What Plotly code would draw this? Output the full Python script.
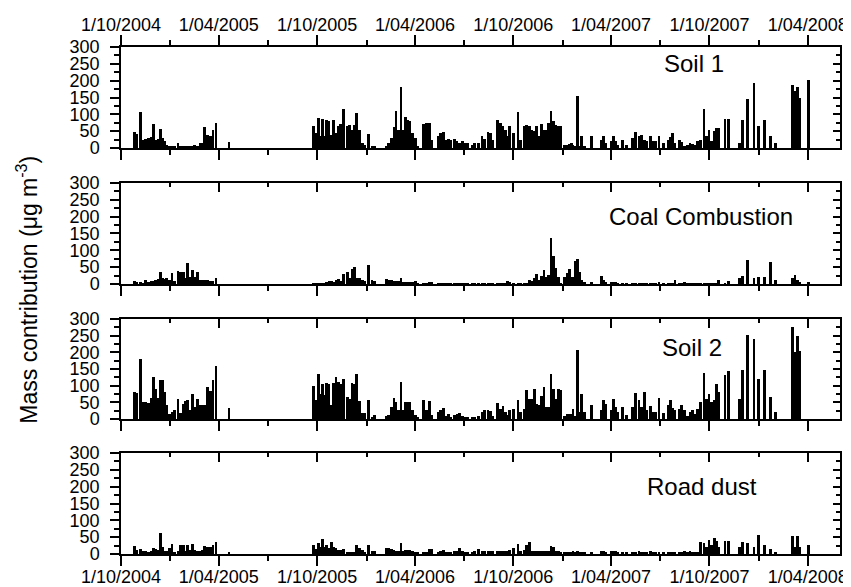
import pandas as pd
import plotly.graph_objects as go

# sample day number counted from 1 October 2004
sample_day = [
    25, 30, 36, 42, 46, 51, 56, 60, 64, 69, 73, 77, 81, 85, 90, 95, 100, 106, 111, 116,
    120, 124, 128, 133, 137, 142, 147, 152, 156, 161, 166, 171, 177, 201,
    358, 362, 367, 371, 375, 379, 383, 387, 392, 396, 400, 405, 409, 414, 421, 425,
    430, 434, 438, 444, 449, 453, 460, 467, 472, 494, 498, 503, 508, 512, 516, 521,
    525, 529, 534, 538, 543, 548, 552, 563, 568, 574, 579, 590, 594, 600, 605, 610,
    614, 621, 625, 630, 635, 641, 646, 653, 658, 665,
    672, 677, 683, 688, 692, 701, 706, 711, 715, 719, 723, 731, 739, 744, 750, 755,
    760, 765, 769, 773, 778, 783, 787, 791, 796, 800, 805, 809, 814, 819, 825, 830,
    834, 838, 841, 845, 849, 853, 857, 863, 876, 894, 898, 902, 912, 916, 920, 924,
    933, 941, 952, 958, 964, 969, 974, 979, 985, 989, 995, 1001, 1010, 1018, 1022, 1026,
    1031, 1039, 1043, 1049, 1054, 1059, 1064, 1068, 1073, 1079, 1085, 1090, 1094, 1099, 1104, 1108,
    1112, 1124, 1130, 1151, 1156, 1166, 1178, 1186, 1197, 1209, 1218, 1249, 1254, 1259, 1263, 1280,
]

soil1 = [
    48, 43, 106, 25, 27, 30, 33, 72, 25, 27, 56, 30, 20, 10, 5, 5, 7, 15, 5, 5,
    3, 4, 5, 5, 9, 6, 15, 15, 61, 40, 37, 54, 75, 19,
    64, 46, 89, 37, 87, 37, 84, 79, 40, 84, 45, 64, 71, 117, 64, 69,
    54, 69, 104, 54, 15, 10, 42, 5, 3, 5, 15, 30, 62, 111, 54, 180,
    54, 91, 84, 79, 45, 30, 5, 72, 73, 74, 25, 37, 45, 47, 25, 27,
    23, 28, 20, 15, 20, 15, 15, 10, 15, 15,
    37, 27, 47, 45, 25, 84, 74, 64, 54, 35, 64, 45, 106, 25, 64, 69,
    64, 54, 50, 64, 35, 71, 54, 54, 74, 109, 79, 69, 64, 64, 10, 10,
    13, 15, 10, 5, 153, 5, 37, 3, 37, 25, 37, 15, 20, 37, 20, 8,
    25, 10, 30, 47, 35, 40, 25, 20, 37, 20, 20, 35, 15, 25, 33, 45,
    15, 25, 17, 5, 10, 15, 13, 10, 20, 25, 116, 35, 54, 20, 50, 59,
    59, 86, 86, 15, 84, 147, 193, 64, 82, 35, 15, 188, 170, 181, 148, 203,
]

coal = [
    9, 5, 7, 4, 13, 7, 9, 9, 12, 15, 36, 18, 15, 17, 12, 32, 9, 38, 37, 37,
    18, 62, 22, 42, 20, 35, 12, 11, 11, 11, 9, 9, 19, 0,
    2, 2, 3, 3, 3, 4, 5, 8, 8, 6, 12, 14, 10, 30, 37, 19,
    44, 50, 19, 17, 12, 9, 57, 13, 9, 16, 13, 13, 10, 9, 10, 17,
    7, 6, 6, 6, 6, 9, 4, 3, 2, 5, 5, 3, 2, 2, 2, 2,
    2, 3, 3, 3, 3, 2, 2, 2, 2, 3,
    3, 3, 3, 3, 2, 3, 3, 3, 3, 10, 5, 4, 4, 4, 4, 4,
    11, 8, 17, 29, 12, 25, 42, 22, 27, 138, 83, 49, 22, 3, 22, 32,
    44, 20, 20, 68, 74, 35, 12, 5, 7, 24, 12, 6, 6, 5, 5, 3,
    2, 2, 2, 2, 2, 2, 2, 2, 2, 2, 2, 5, 2, 2, 2, 2,
    11, 3, 3, 7, 2, 2, 2, 2, 2, 2, 2, 2, 3, 2, 2, 2,
    12, 3, 9, 17, 24, 71, 19, 22, 22, 64, 12, 17, 27, 12, 5, 5,
]

soil2 = [
    81, 78, 181, 50, 50, 48, 64, 126, 91, 64, 118, 116, 81, 41, 16, 21, 26, 61, 18, 46,
    54, 56, 26, 76, 36, 59, 41, 43, 43, 96, 83, 118, 158, 34,
    100, 58, 134, 76, 104, 71, 108, 106, 41, 108, 126, 111, 104, 121, 66, 61,
    108, 104, 134, 54, 18, 18, 56, 5, 13, 8, 13, 36, 64, 51, 26, 111,
    26, 51, 50, 50, 26, 13, 6, 56, 26, 54, 11, 21, 28, 33, 10, 14,
    6, 11, 16, 19, 8, 4, 4, 4, 6, 8,
    21, 28, 26, 23, 8, 48, 31, 38, 21, 13, 28, 31, 58, 21, 30, 86,
    61, 61, 90, 46, 41, 70, 96, 36, 36, 136, 90, 61, 90, 86, 8, 14,
    14, 16, 31, 10, 206, 20, 76, 21, 43, 26, 56, 46, 26, 60, 36, 21,
    36, 11, 36, 78, 58, 36, 81, 26, 38, 21, 21, 64, 18, 41, 56, 34,
    26, 30, 41, 26, 10, 21, 28, 15, 31, 50, 138, 61, 76, 51, 58, 104,
    81, 131, 143, 61, 148, 253, 239, 121, 146, 66, 21, 276, 201, 249, 203, 0,
]

road_dust = [
    24, 12, 15, 9, 9, 5, 10, 19, 15, 12, 62, 22, 9, 9, 17, 30, 5, 8, 27, 27,
    10, 27, 12, 29, 12, 10, 10, 11, 24, 22, 22, 27, 35, 5,
    27, 15, 34, 20, 45, 22, 27, 17, 35, 22, 17, 12, 12, 15, 7, 5,
    5, 5, 27, 17, 12, 5, 27, 9, 9, 19, 19, 15, 12, 9, 9, 34,
    9, 11, 11, 11, 9, 7, 4, 7, 5, 14, 14, 7, 9, 11, 5, 5,
    7, 9, 10, 17, 8, 4, 4, 4, 9, 15,
    8, 8, 8, 9, 9, 10, 10, 9, 10, 10, 12, 19, 30, 10, 12, 27,
    37, 10, 8, 8, 10, 8, 8, 8, 8, 24, 20, 8, 8, 5, 5, 5,
    5, 5, 8, 5, 8, 5, 5, 4, 4, 10, 8, 5, 9, 9, 9, 4,
    4, 4, 4, 5, 8, 5, 5, 5, 8, 4, 4, 5, 4, 4, 4, 4,
    4, 4, 5, 8, 4, 9, 5, 5, 5, 37, 32, 20, 42, 27, 47, 40,
    20, 39, 39, 22, 37, 32, 22, 57, 27, 14, 5, 52, 22, 52, 22, 27,
]

panel_names = ["Soil 1", "Coal Combustion", "Soil 2", "Road dust"]
major_ticks = ["2004-10-01", "2005-04-01", "2005-10-01", "2006-04-01",
               "2006-10-01", "2007-04-01", "2007-10-01", "2008-04-01"]
major_labels = ["1/10/2004", "1/04/2005", "1/10/2005", "1/04/2006",
                "1/10/2006", "1/04/2007", "1/10/2007", "1/04/2008"]
minor_ticks = ["2005-01-01", "2005-07-01", "2006-01-01", "2006-07-01",
               "2007-01-01", "2007-07-01", "2008-01-01"]
y_ticks = [0, 50, 100, 150, 200, 250, 300]
y_minor = [25, 75, 125, 175, 225, 275]
x_range = ["2004-10-01", "2008-05-31"]
y_title = "Mass contribution (\u03bcg m<sup>-3</sup>)"

dates = (pd.Timestamp("2004-10-01") + pd.to_timedelta(sample_day, unit="D")).strftime("%Y-%m-%d").tolist()
series = [soil1, coal, soil2, road_dust]

FONT = "Arial, Liberation Sans, sans-serif"
domains = [[0.8008, 1.0], [0.5325, 0.7318], [0.2663, 0.4635], [0.0, 0.1992]]
label_pos = [(0.797, 0.84), (0.807, 0.673), (0.794, 0.72), (0.808, 0.673)]


def sfx(n):
    return "" if n == 1 else str(n)


fig = go.Figure()
layout = {}
annotations = []
for i in range(4):
    n = i + 1
    no = n + 4
    a, b = sfx(n), sfx(no)
    fig.add_trace(go.Bar(
        x=dates, y=series[i], width=5.0 * 86400000,
        marker=dict(color="black", line=dict(width=0)),
        xaxis="x" + a, yaxis="y" + a, showlegend=False,
    ))
    fig.add_trace(go.Scatter(
        x=[None], y=[None], mode="markers", xaxis="x" + b, yaxis="y" + b,
        showlegend=False, hoverinfo="skip",
    ))
    common_x = dict(
        type="date", range=x_range, showline=True, linecolor="black", linewidth=1.5,
        tickvals=major_ticks, ticktext=major_labels, tickcolor="black", tickwidth=1.5,
        showgrid=False, zeroline=False, automargin=False,
        tickfont=dict(family=FONT, size=18, color="black"),
    )
    layout["xaxis" + a] = dict(
        common_x, domain=[0, 1], anchor="y" + a, ticks="outside", ticklen=10,
        showticklabels=(n == 4), ticklabelstandoff=-4,
        minor=dict(tickvals=minor_ticks, ticks="outside", ticklen=5, tickwidth=1.5,
                   tickcolor="black", showgrid=False),
    )
    top_dir = "outside" if n == 1 else "inside"
    layout["xaxis" + b] = dict(
        common_x, overlaying="x" + a, side="top", anchor="y" + a, ticks=top_dir,
        ticklen=10 if n == 1 else 9, showticklabels=(n == 1), ticklabelstandoff=-3,
        minor=dict(tickvals=minor_ticks, ticks=top_dir, ticklen=5 if n == 1 else 4,
                   tickwidth=1.5, tickcolor="black", showgrid=False),
    )
    common_y = dict(
        range=[0, 300], showline=True, linecolor="black", linewidth=1.5,
        tickvals=y_ticks, tickcolor="black", tickwidth=1.5, showgrid=False, zeroline=False,
        automargin=False, tickfont=dict(family=FONT, size=18, color="black"),
    )
    layout["yaxis" + a] = dict(
        common_y, domain=domains[i], anchor="x" + a, ticks="outside", ticklen=9,
        ticklabelstandoff=7,
        minor=dict(tickvals=y_minor, ticks="outside", ticklen=5, tickwidth=1.5,
                   tickcolor="black", showgrid=False),
    )
    layout["yaxis" + b] = dict(
        common_y, overlaying="y" + a, side="right", anchor="x" + a, ticks="inside",
        ticklen=7, showticklabels=False,
        minor=dict(tickvals=y_minor, ticks="inside", ticklen=4, tickwidth=1.5,
                   tickcolor="black", showgrid=False),
    )
    annotations.append(dict(
        text=panel_names[i], xref="x" + a + " domain", yref="y" + a + " domain",
        x=label_pos[i][0], y=label_pos[i][1], xanchor="center", yanchor="middle",
        showarrow=False, font=dict(family=FONT, size=24, color="black"),
    ))

annotations.append(dict(
    text=y_title, xref="paper", yref="paper", x=-0.131, y=0.521,
    xanchor="center", yanchor="middle", textangle=-90, showarrow=False,
    font=dict(family=FONT, size=23, color="black"),
))

fig.update_layout(
    width=843, height=579,
    margin=dict(l=113, r=11, t=39, b=33, autoexpand=False),
    paper_bgcolor="white", plot_bgcolor="white",
    annotations=annotations,
    bargap=0,
    **layout,
)
fig.write_html("out.html")
